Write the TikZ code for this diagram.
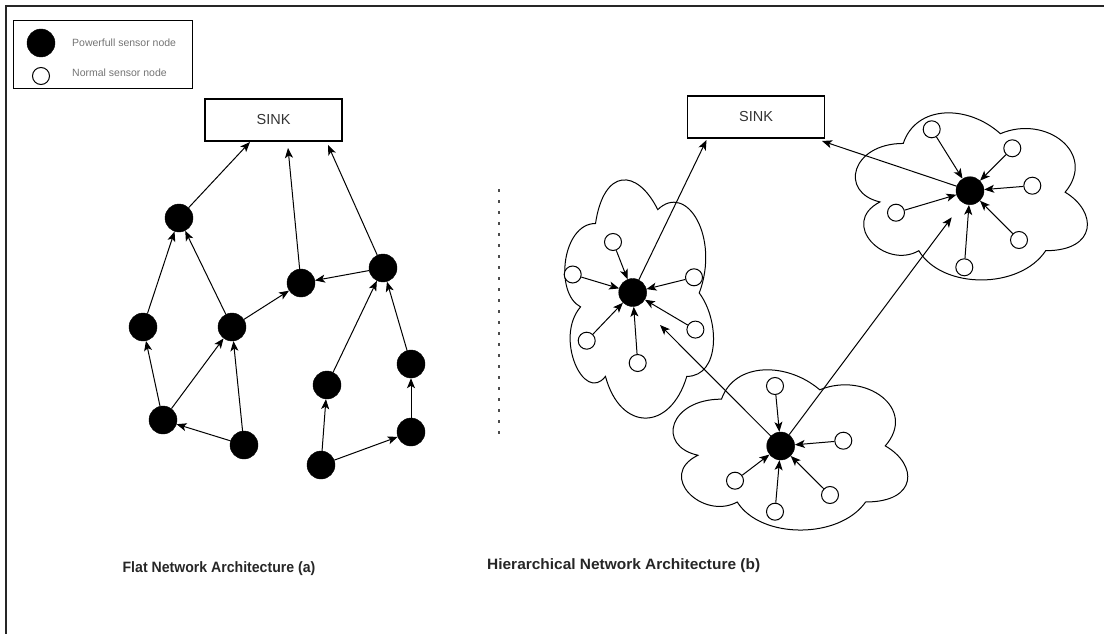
\documentclass[tikz,border=0pt]{standalone}
\usepackage{fontspec}
\setmainfont{Liberation Sans}
\usetikzlibrary{arrows.meta,calc}

% cloud outline in a box of corner (#1,#2), width #3, height #4 (y grows downwards)
\newcommand\cloudpath[4]{%
  \draw[cloudline] ({#1+0.25*#3},{#2+0.25*#4})
    .. controls ({#1+0.05*#3},{#2+0.25*#4}) and ({#1},{#2+0.5*#4}) .. ({#1+0.16*#3},{#2+0.55*#4})
    .. controls ({#1},{#2+0.66*#4}) and ({#1+0.18*#3},{#2+0.9*#4}) .. ({#1+0.31*#3},{#2+0.8*#4})
    .. controls ({#1+0.4*#3},{#2+#4}) and ({#1+0.7*#3},{#2+#4}) .. ({#1+0.8*#3},{#2+0.8*#4})
    .. controls ({#1+#3},{#2+0.8*#4}) and ({#1+#3},{#2+0.6*#4}) .. ({#1+0.875*#3},{#2+0.5*#4})
    .. controls ({#1+#3},{#2+0.3*#4}) and ({#1+0.8*#3},{#2+0.1*#4}) .. ({#1+0.625*#3},{#2+0.2*#4})
    .. controls ({#1+0.5*#3},{#2+0.05*#4}) and ({#1+0.3*#3},{#2+0.05*#4}) .. ({#1+0.25*#3},{#2+0.25*#4})
    -- cycle;}

\tikzset{
  big/.style={circle, fill=black, draw=black, minimum size=28pt, inner sep=0pt},
  small/.style={circle, fill=white, draw=black, line width=1pt, minimum size=17pt, inner sep=0pt},
  arr/.style={-{Stealth[length=10pt,width=8pt,inset=2.5pt]}, line width=1pt},
  sinkbox/.style={draw, line width=1.1pt, minimum width=137pt, minimum height=42pt, inner sep=0pt,
    font=\fontsize{14.5}{16}\selectfont, text=black!80},
  cloudline/.style={line width=1pt},
  legendtext/.style={anchor=west, inner sep=0pt, text=black!55, font=\fontsize{10.5}{12}\selectfont},
  caption/.style={inner sep=0pt, font=\bfseries\fontsize{15}{17}\selectfont, text=black!85},
}

\begin{document}
\begin{tikzpicture}[x=1pt, y=-1pt]
\useasboundingbox (0,0) rectangle (1104,634);

% outer frame
\draw[line width=1.5pt, black!85] (1104,6) -- (6,6) -- (6,634);

% legend
\draw[line width=1pt] (13,21) rectangle (192,89);
\node[big] (lgbig) at (41,43) {};
\node[small] (lgsmall) at (41,76) {};
\node[legendtext] (lgt1) at (72,43) {Powerfull sensor node};
\node[legendtext] (lgt2) at (72,73) {Normal sensor node};

% ---------- flat architecture ----------
\node[sinkbox] (sinkL) at (273.5,120) {SINK};
\coordinate (sL1) at (250,142);
\coordinate (sL2) at (288,148);
\coordinate (sL3) at (328,145);

\node[big] (A) at (179,218) {};
\node[big] (B) at (301,283) {};
\node[big] (C) at (383,268) {};
\node[big] (D) at (143,327) {};
\node[big] (E) at (232,327) {};
\node[big] (F) at (411,364) {};
\node[big] (G) at (327,385) {};
\node[big] (H) at (163,420) {};
\node[big] (I) at (244,445) {};
\node[big] (J) at (411,432) {};
\node[big] (K) at (321,465) {};

\draw[arr] (A) -- (sL1);
\draw[arr] (B) -- (sL2);
\draw[arr] (C) -- (sL3);
\draw[arr] (D) -- (A);
\draw[arr] (E) -- (A);
\draw[arr] (E) -- (B);
\draw[arr] (C) -- (B);
\draw[arr] (H) -- (D);
\draw[arr] (H) -- (E);
\draw[arr] (I) -- (E);
\draw[arr] (I) -- (H);
\draw[arr] (G) -- (C);
\draw[arr] (F) -- (C);
\draw[arr] (K) -- (G);
\draw[arr] (J) -- (F);
\draw[arr] (K) -- (J);

\node[caption] (capA) at (219,569) {\scalebox{0.94}[1]{Flat Network Architecture (a)}};

% separator
\draw[black!70, line width=2.5pt, dash pattern=on 2.5pt off 8.5pt] (499,189) -- (499,434);

% ---------- hierarchical architecture ----------
\cloudpath{554}{154}{166}{278}
\cloudpath{838.5}{94.7}{259}{195}
\cloudpath{656}{352.4}{262}{187}

\node[sinkbox] (sinkR) at (756,117) {SINK};
\coordinate (sR1) at (706.5,140);
\coordinate (sR2) at (822,141);

% left cluster
\node[big] (hL) at (632.7,292.5) {};
\node[small] (l1) at (613,242) {};
\node[small] (l2) at (572.7,274.5) {};
\node[small] (l3) at (694,277.3) {};
\node[small] (l4) at (586.7,340.7) {};
\node[small] (l5) at (637.7,363) {};
\node[small] (l6) at (695.4,329.6) {};
\foreach \n in {l1,l2,l3,l4,l5,l6} \draw[arr] (\n) -- (hL);

% right cluster
\node[big] (hR) at (970,190.7) {};
\node[small] (r1) at (931.7,129.3) {};
\node[small] (r2) at (1012.3,148.3) {};
\node[small] (r3) at (1032.3,185.7) {};
\node[small] (r4) at (896,212.7) {};
\node[small] (r5) at (1019,240) {};
\node[small] (r6) at (964.3,267.3) {};
\foreach \n in {r1,r2,r3,r4,r5,r6} \draw[arr] (\n) -- (hR);

% bottom cluster
\node[big] (hB) at (780.7,446) {};
\node[small] (b1) at (775,386) {};
\node[small] (b2) at (843.3,440.7) {};
\node[small] (b3) at (735,480.7) {};
\node[small] (b4) at (830,495) {};
\node[small] (b5) at (775,511.7) {};
\foreach \n in {b1,b2,b3,b4,b5} \draw[arr] (\n) -- (hB);

\coordinate (tL) at (660,325);
\coordinate (tR) at (951.7,217.3);

\draw[arr] (hL) -- (sR1);
\draw[arr] (hR) -- (sR2);
\draw[arr] (hB) -- (tL);
\draw[arr] (hB) -- (tR);

\node[caption, anchor=west] (capB) at (487,566) {\scalebox{1.03}[1]{Hierarchical Network Architecture (b)}};
\end{tikzpicture}
\end{document}
